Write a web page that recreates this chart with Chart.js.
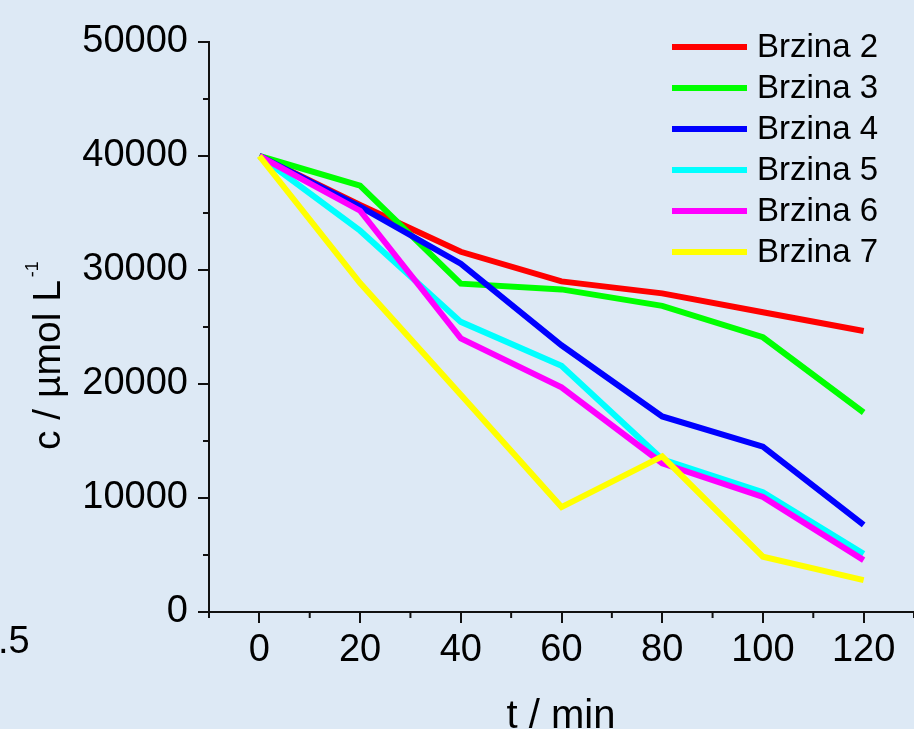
<!DOCTYPE html>
<html>
<head>
<meta charset="utf-8">
<script src="https://cdn.jsdelivr.net/npm/chart.js@4"></script>
<style>
  html, body { margin: 0; padding: 0; background: #dde9f5; }
  #wrap { width: 914px; height: 729px; position: relative; }
</style>
</head>
<body>
<div id="wrap"><canvas id="chart" width="914" height="729"></canvas></div>
<script>
// data
const time = [0, 20, 40, 60, 80, 100, 120];
const brzina2 = [40000, 35700, 31600, 29000, 27950, 26300, 24650];
const brzina3 = [40000, 37400, 28800, 28300, 26850, 24100, 17500];
const brzina4 = [40000, 35550, 30550, 23400, 17150, 14500, 7650];
const brzina5 = [40000, 33450, 25450, 21600, 13400, 10500, 5100];
const brzina6 = [40000, 35200, 24000, 19700, 13050, 10100, 4550];
const brzina7 = [40000, 28850, 19050, 9200, 13650, 4850, 2800];

const seriesNames = ['Brzina 2', 'Brzina 3', 'Brzina 4', 'Brzina 5', 'Brzina 6', 'Brzina 7'];
const seriesValues = [brzina2, brzina3, brzina4, brzina5, brzina6, brzina7];
const seriesColors = ['#ff0000', '#00ff00', '#0000ff', '#00ffff', '#ff00ff', '#ffff00'];

const xTicks = [0, 20, 40, 60, 80, 100, 120];
const yTicks = [0, 10000, 20000, 30000, 40000, 50000];

const FONT = 'Liberation Sans, Arial, sans-serif';

let datasets = seriesValues.map(function (vals, i) {
    return {
        label: seriesNames[i],
        data: vals.map(function (v, j) { return { x: time[j], y: v }; }),
        borderColor: seriesColors[i],
        backgroundColor: seriesColors[i],
        borderWidth: 6,
        pointRadius: 0,
        tension: 0,
        order: seriesValues.length - i
    };
});

// minor ticks, legend and titles
const extras = {
    id: 'extras',
    afterDraw(chart) {
        const ctx = chart.ctx;
        const xs = chart.scales.x, ys = chart.scales.y;
        const area = chart.chartArea;
        ctx.save();
        ctx.strokeStyle = '#111';
        ctx.lineWidth = 2;
        // minor ticks
        for (let v = -10; v <= 130; v += 20) {
            let px = xs.getPixelForValue(v);
            ctx.beginPath();
            ctx.moveTo(px, area.bottom);
            ctx.lineTo(px, area.bottom + 6);
            ctx.stroke();
        }
        for (let v = 5000; v < 50000; v += 10000) {
            let py = ys.getPixelForValue(v);
            ctx.beginPath();
            ctx.moveTo(area.left, py);
            ctx.lineTo(area.left - 6, py);
            ctx.stroke();
        }
        // legend
        ctx.font = '33px ' + FONT;
        ctx.textBaseline = 'middle';
        ctx.textAlign = 'left';
        chart.data.datasets.forEach(function (ds, i) {
            let y = 47 + i * 41;
            ctx.strokeStyle = ds.borderColor;
            ctx.lineWidth = 6;
            ctx.beginPath();
            ctx.moveTo(672, y);
            ctx.lineTo(747, y);
            ctx.stroke();
            ctx.fillStyle = '#000';
            ctx.fillText(ds.label, 757, y + 1);
        });
        // axis titles
        ctx.fillStyle = '#000';
        ctx.font = '40px ' + FONT;
        ctx.textAlign = 'center';
        ctx.textBaseline = 'alphabetic';
        ctx.fillText('t / min', 561, 728);
        ctx.save();
        ctx.translate(60, 450);
        ctx.rotate(-Math.PI / 2);
        ctx.textAlign = 'left';
        ctx.font = '39px ' + FONT;
        ctx.fillText('c / \u00b5mol L', 0, 0);
        let w = ctx.measureText('c / \u00b5mol L').width;
        ctx.font = '18px ' + FONT;
        ctx.fillText('-1', w + 3, -22);
        ctx.restore();
        // leftover from neighbouring figure
        ctx.textAlign = 'left';
        ctx.font = '38px ' + FONT;
        ctx.fillText('.5', -2, 653);
        ctx.restore();
    }
};

new Chart(document.getElementById('chart'), {
    type: 'line',
    data: { datasets: datasets },
    plugins: [extras],
    options: {
        responsive: false,
        animation: false,
        layout: { padding: { top: 42, right: 0, left: 0, bottom: 0 } },
        plugins: { legend: { display: false }, tooltip: { enabled: false } },
        scales: {
            x: {
                type: 'linear',
                min: -10,
                max: 130,
                afterBuildTicks: function (scale) {
                    scale.ticks = xTicks.map(function (v) { return { value: v }; });
                },
                afterFit: function (scale) { scale.height = 117; },
                border: { display: true, color: '#111', width: 2 },
                grid: { drawOnChartArea: false, drawTicks: true, tickLength: 11, color: '#111', lineWidth: 2 },
                ticks: { color: '#000', font: { family: FONT, size: 38 }, padding: 5, maxRotation: 0, autoSkip: false }
            },
            y: {
                type: 'linear',
                min: 0,
                max: 50000,
                afterBuildTicks: function (scale) {
                    scale.ticks = yTicks.map(function (v) { return { value: v }; });
                },
                afterFit: function (scale) { scale.width = 209; },
                border: { display: true, color: '#111', width: 2 },
                grid: { drawOnChartArea: false, drawTicks: true, tickLength: 11, color: '#111', lineWidth: 2 },
                ticks: { color: '#000', font: { family: FONT, size: 38 }, padding: 10, autoSkip: false,
                    callback: function (v) { return String(v); } }
            }
        }
    }
});
</script>
</body>
</html>
